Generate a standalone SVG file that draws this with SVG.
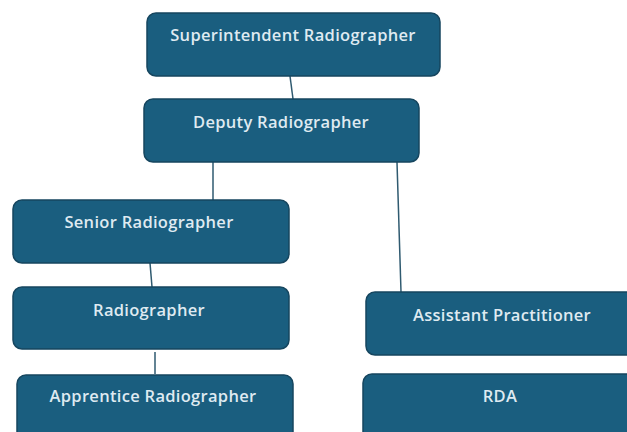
<svg xmlns="http://www.w3.org/2000/svg" width="627" height="432" viewBox="0 0 627 432">
<style>
.box{fill:#1a5e7f;stroke:#16465f;stroke-width:1.5}
.lbl{font-family:"Open Sans","Liberation Sans",Arial,sans-serif;font-size:16.5px;font-weight:600;letter-spacing:0.3px;fill:#dfeaf1;text-anchor:middle}
.con{stroke:#2f5a70;stroke-width:1.5;fill:none}
</style>
<rect width="627" height="432" fill="#ffffff"/>
<g id="connectors">
<line class="con" x1="290" y1="76" x2="293" y2="99"/>
<line class="con" x1="213" y1="162" x2="213" y2="200"/>
<line class="con" x1="397" y1="162" x2="401" y2="292"/>
<line class="con" x1="150" y1="263" x2="152" y2="287"/>
<line class="con" x1="155" y1="352" x2="155" y2="374"/>
</g>
<g id="superintendent">
<rect class="box" x="147" y="13" width="293" height="63" rx="9"/>
<text class="lbl" x="293" y="41">Superintendent Radiographer</text>
</g>
<g id="deputy">
<rect class="box" x="144" y="99" width="275" height="63" rx="9"/>
<text class="lbl" x="281" y="128">Deputy Radiographer</text>
</g>
<g id="senior">
<rect class="box" x="13" y="200" width="276" height="63" rx="9"/>
<text class="lbl" x="149" y="228">Senior Radiographer</text>
</g>
<g id="radiographer">
<rect class="box" x="13" y="287" width="276" height="62" rx="9"/>
<text class="lbl" x="149" y="316">Radiographer</text>
</g>
<g id="apprentice">
<rect class="box" x="17" y="375" width="276" height="70" rx="9"/>
<text class="lbl" x="153" y="402">Apprentice Radiographer</text>
</g>
<g id="assistant">
<rect class="box" x="366" y="292" width="276" height="63" rx="9"/>
<text class="lbl" x="502" y="321">Assistant Practitioner</text>
</g>
<g id="rda">
<rect class="box" x="363" y="374" width="276" height="70" rx="9"/>
<text class="lbl" x="500" y="402">RDA</text>
</g>
</svg>
